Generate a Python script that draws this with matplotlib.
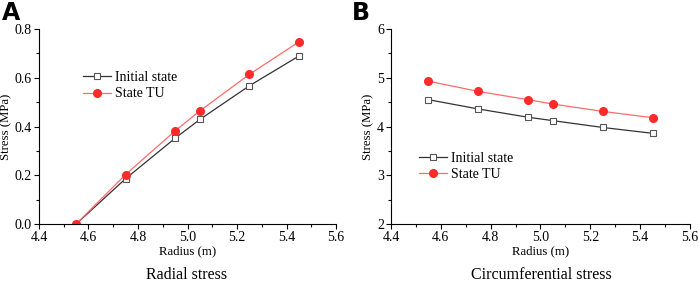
import matplotlib
matplotlib.use('Agg')
import matplotlib.pyplot as plt
from matplotlib.ticker import MultipleLocator

# Data
radius = [4.55, 4.75, 4.95, 5.05, 5.25, 5.45]
radial_initial = [0.0, 0.186, 0.352, 0.429, 0.567, 0.689]
radial_tu = [0.0, 0.203, 0.382, 0.464, 0.614, 0.747]
circ_initial = [4.55, 4.36, 4.19, 4.12, 3.98, 3.86]
circ_tu = [4.93, 4.72, 4.55, 4.46, 4.31, 4.18]

serif = 'Liberation Serif'
red = '#ff2a2a'

fig = plt.figure(figsize=(6.99, 2.82), dpi=100)
W, H = 699, 282


def make_axes(left, right):
    return fig.add_axes([left / W, 1 - 224 / H, (right - left) / W, (224 - 29) / H])


def style(ax):
    for s in ['top', 'right']:
        ax.spines[s].set_visible(False)
    ax.tick_params(which='both', direction='out', labelsize=10, width=0.8, pad=1.5)
    ax.tick_params(which='major', length=3.5)
    ax.tick_params(which='minor', length=2)
    for lab in ax.get_xticklabels() + ax.get_yticklabels():
        lab.set_fontfamily(serif)


def draw(ax, y1, y2, anchor):
    ax.plot(radius, y1, color='#333333', lw=0.9, marker='s', ms=5,
            mfc='white', mec='#555555', mew=0.8, label='Initial state')
    ax.plot(radius, y2, color='#ff6b6b', lw=0.9, marker='o', ms=5.5,
            mfc=red, mec=red, label='State TU')
    ax.set_xlim(4.4, 5.6)
    ax.xaxis.set_minor_locator(MultipleLocator(0.1))
    ax.set_xticks([4.4, 4.6, 4.8, 5.0, 5.2, 5.4, 5.6])
    ax.set_xticklabels(['4.4', '4.6', '4.8', '5.0', '5.2', '5.4', '5.6'])
    ax.set_xlabel('Radius (m)', fontfamily=serif, fontsize=9.2, labelpad=1)
    ax.set_ylabel('Stress (MPa)', fontfamily=serif, fontsize=9.2, labelpad=2)
    ax.legend(loc='upper left', bbox_to_anchor=anchor, frameon=False,
              prop={'family': serif, 'size': 10}, borderpad=0, borderaxespad=0,
              handlelength=2.0, handletextpad=0.3, labelspacing=0.25)
    style(ax)


axA = make_axes(39, 336)
draw(axA, radial_initial, radial_tu, (0.148, 0.785))
axA.set_ylim(0, 0.8)
axA.yaxis.set_minor_locator(MultipleLocator(0.1))
axA.set_yticks([0, 0.2, 0.4, 0.6, 0.8])
axA.set_yticklabels(['0.0', '0.2', '0.4', '0.6', '0.8'])
style(axA)

axB = make_axes(391, 690)
draw(axB, circ_initial, circ_tu, (0.094, 0.37))
axB.set_ylim(2, 6)
axB.yaxis.set_minor_locator(MultipleLocator(0.5))
axB.set_yticks([2, 3, 4, 5, 6])
style(axB)

fig.text(2 / W, 1 - 13 / H, 'A', fontsize=17, fontweight='bold', va='center', ha='left')
fig.text(352 / W, 1 - 13 / H, 'B', fontsize=17, fontweight='bold', va='center', ha='left')
fig.text(187 / W, 1 - 275 / H, 'Radial stress', fontfamily=serif, fontsize=11.5, ha='center', va='center')
fig.text(541 / W, 1 - 275 / H, 'Circumferential stress', fontfamily=serif, fontsize=11.5, ha='center', va='center')

fig.savefig('out.png', dpi=100)
